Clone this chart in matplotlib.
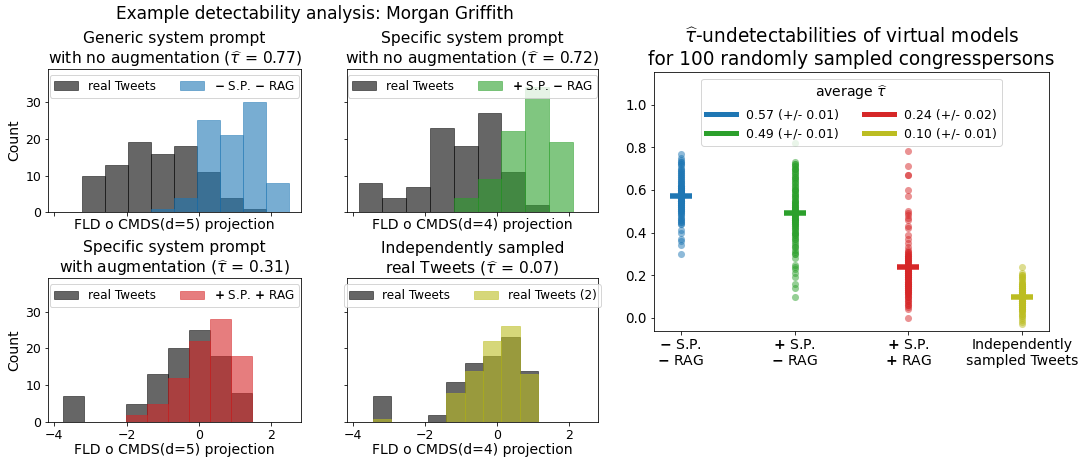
import numpy as np
import matplotlib
matplotlib.use("Agg")
import matplotlib.pyplot as plt
from matplotlib.lines import Line2D

# ---------------- data ----------------
# Histogram panels: bin edges and counts
edges_tl = [-3.225, -2.588, -1.951, -1.314, -0.678, -0.041, 0.596, 1.233, 1.870, 2.507]
real_tl = [10, 13, 19, 16, 18, 11, 4, 1, 0]
sim_tl = [0, 0, 0, 1, 4, 25, 21, 30, 8]

edges_tm = [-3.833, -3.173, -2.513, -1.854, -1.194, -0.534, 0.126, 0.786, 1.445, 2.105]
real_tm = [8, 4, 7, 23, 18, 27, 11, 2, 0]
sim_tm = [0, 0, 0, 0, 4, 9, 22, 34, 19]

edges_bl = [-3.750, -3.170, -2.591, -2.011, -1.432, -0.852, -0.272, 0.307, 0.887, 1.466]
real_bl = [7, 0, 0, 5, 13, 20, 25, 18, 8]
sim_bl = [0, 0, 0, 2, 5, 12, 22, 28, 18]

edges_bm = [-3.445, -2.935, -2.425, -1.915, -1.405, -0.895, -0.385, 0.125, 0.635, 1.144]
real_bm = [7, 0, 0, 2, 11, 16, 18, 23, 14]
sim_bm = [1, 0, 0, 0, 8, 14, 22, 26, 13]

hist_titles = [
    "Generic system prompt\nwith no augmentation ($\\widehat{\\tau}$ = 0.77)",
    "Specific system prompt\nwith no augmentation ($\\widehat{\\tau}$ = 0.72)",
    "Specific system prompt\nwith augmentation ($\\widehat{\\tau}$ = 0.31)",
    "Independently sampled\nreal Tweets ($\\widehat{\\tau}$ = 0.07)",
]
hist_labels = [
    r"$\mathbf{-}$ S.P. $\mathbf{-}$ RAG",
    r"$\mathbf{+}$ S.P. $\mathbf{-}$ RAG",
    r"$\mathbf{+}$ S.P. $\mathbf{+}$ RAG",
    "real Tweets (2)",
]
hist_xlabels = ["FLD o CMDS(d=5) projection", "FLD o CMDS(d=4) projection",
                "FLD o CMDS(d=5) projection", "FLD o CMDS(d=4) projection"]

# Right panel: per-congressperson tau-hat values
tau_sp_rag_minus = [
    0.77, 0.75, 0.74, 0.73, 0.73, 0.72, 0.72, 0.71, 0.70, 0.70,
    0.69, 0.69, 0.68, 0.68, 0.67, 0.67, 0.66, 0.66, 0.65, 0.65,
    0.64, 0.64, 0.63, 0.63, 0.63, 0.62, 0.62, 0.62, 0.61, 0.61,
    0.61, 0.60, 0.60, 0.60, 0.59, 0.59, 0.59, 0.58, 0.58, 0.58,
    0.58, 0.57, 0.57, 0.57, 0.57, 0.56, 0.56, 0.56, 0.56, 0.55,
    0.55, 0.55, 0.55, 0.54, 0.54, 0.54, 0.53, 0.53, 0.53, 0.52,
    0.52, 0.52, 0.51, 0.51, 0.51, 0.50, 0.50, 0.50, 0.49, 0.49,
    0.48, 0.48, 0.47, 0.47, 0.46, 0.46, 0.45, 0.45, 0.44, 0.44,
    0.41, 0.40, 0.37, 0.36, 0.34, 0.30, 0.60, 0.59, 0.58, 0.57,
    0.57, 0.56, 0.56, 0.55, 0.58, 0.57, 0.56, 0.55, 0.62, 0.60,
]
tau_sp_plus_rag_minus = [
    0.82, 0.73, 0.72, 0.72, 0.71, 0.71, 0.70, 0.70, 0.69, 0.68,
    0.67, 0.66, 0.65, 0.65, 0.64, 0.63, 0.62, 0.62, 0.61, 0.60,
    0.60, 0.59, 0.58, 0.58, 0.57, 0.56, 0.56, 0.55, 0.55, 0.54,
    0.54, 0.53, 0.53, 0.52, 0.52, 0.51, 0.51, 0.50, 0.50, 0.50,
    0.49, 0.49, 0.49, 0.48, 0.48, 0.48, 0.47, 0.47, 0.47, 0.46,
    0.46, 0.46, 0.45, 0.45, 0.44, 0.44, 0.43, 0.43, 0.42, 0.42,
    0.41, 0.41, 0.40, 0.40, 0.39, 0.39, 0.38, 0.37, 0.36, 0.35,
    0.34, 0.33, 0.32, 0.31, 0.30, 0.28, 0.25, 0.24, 0.21, 0.19,
    0.16, 0.14, 0.10, 0.70, 0.68, 0.66, 0.63, 0.60, 0.57, 0.55,
    0.52, 0.50, 0.48, 0.46, 0.44, 0.40, 0.37, 0.33, 0.30, 0.23,
]
tau_sp_plus_rag_plus = [
    0.78, 0.71, 0.67, 0.67, 0.60, 0.57, 0.50, 0.49, 0.48, 0.47,
    0.46, 0.43, 0.42, 0.39, 0.37, 0.35, 0.33, 0.32, 0.31, 0.30,
    0.30, 0.29, 0.29, 0.28, 0.28, 0.27, 0.27, 0.26, 0.26, 0.25,
    0.25, 0.25, 0.24, 0.24, 0.23, 0.23, 0.23, 0.22, 0.22, 0.22,
    0.21, 0.21, 0.21, 0.20, 0.20, 0.20, 0.19, 0.19, 0.19, 0.18,
    0.18, 0.18, 0.17, 0.17, 0.17, 0.16, 0.16, 0.16, 0.15, 0.15,
    0.15, 0.14, 0.14, 0.13, 0.13, 0.12, 0.12, 0.11, 0.11, 0.10,
    0.10, 0.09, 0.08, 0.07, 0.06, 0.05, 0.04, 0.00, 0.26, 0.24,
    0.31, 0.29, 0.27, 0.25, 0.23, 0.22, 0.21, 0.20, 0.19, 0.18,
    0.17, 0.16, 0.15, 0.14, 0.13, 0.12, 0.11, 0.10, 0.08, 0.06,
]
tau_real_real = [
    0.24, 0.21, 0.20, 0.20, 0.19, 0.19, 0.18, 0.18, 0.17, 0.17,
    0.16, 0.16, 0.16, 0.15, 0.15, 0.15, 0.14, 0.14, 0.14, 0.14,
    0.13, 0.13, 0.13, 0.13, 0.12, 0.12, 0.12, 0.12, 0.12, 0.11,
    0.11, 0.11, 0.11, 0.11, 0.11, 0.10, 0.10, 0.10, 0.10, 0.10,
    0.10, 0.10, 0.10, 0.10, 0.09, 0.09, 0.09, 0.09, 0.09, 0.09,
    0.09, 0.08, 0.08, 0.08, 0.08, 0.08, 0.08, 0.07, 0.07, 0.07,
    0.07, 0.07, 0.06, 0.06, 0.06, 0.06, 0.05, 0.05, 0.05, 0.04,
    0.04, 0.04, 0.03, 0.03, 0.02, 0.02, 0.01, 0.00, -0.01, -0.03,
    0.15, 0.14, 0.13, 0.12, 0.11, 0.11, 0.10, 0.10, 0.09, 0.09,
    0.08, 0.08, 0.07, 0.07, 0.06, 0.05, 0.04, 0.03, 0.01, -0.02,
]
tau_means = [0.57, 0.49, 0.24, 0.10]
tau_errs = [0.01, 0.01, 0.02, 0.01]
cond_labels = [
    r"$\mathbf{-}$ S.P." + "\n" + r"$\mathbf{-}$ RAG",
    r"$\mathbf{+}$ S.P." + "\n" + r"$\mathbf{-}$ RAG",
    r"$\mathbf{+}$ S.P." + "\n" + r"$\mathbf{+}$ RAG",
    "Independently\nsampled Tweets",
]

colors = ["tab:blue", "tab:green", "tab:red", "tab:olive"]

# ---------------- figure ----------------
W, H, DPI = 1085, 461, 72
fig = plt.figure(figsize=(W / DPI, H / DPI), dpi=DPI)


def px_axes(x0, y0, x1, y1):
    return fig.add_axes([x0 / W, 1 - y1 / H, (x1 - x0) / W, (y1 - y0) / H])


ax_tl = px_axes(48.3, 69.0, 300.7, 212.3)
ax_tm = px_axes(346.7, 69.0, 598.3, 212.3)
ax_bl = px_axes(48.3, 278.3, 300.7, 422.3)
ax_bm = px_axes(346.7, 278.3, 598.3, 422.3)
ax_r = px_axes(654.0, 72.3, 1049.0, 330.7)

panels = [
    (ax_tl, edges_tl, real_tl, sim_tl),
    (ax_tm, edges_tm, real_tm, sim_tm),
    (ax_bl, edges_bl, real_bl, sim_bl),
    (ax_bm, edges_bm, real_bm, sim_bm),
]

for i, (ax, edges, real, sim) in enumerate(panels):
    e = np.array(edges)
    w = np.diff(e)
    ax.bar(e[:-1], real, width=w, align="edge", color="k", alpha=0.6,
           edgecolor="k", linewidth=0.8, label="real Tweets")
    ax.bar(e[:-1], sim, width=w, align="edge", color=colors[i], alpha=0.6,
           edgecolor=colors[i], linewidth=0.8, label=hist_labels[i])
    ax.set_xlim(-4.166, 2.82)
    ax.set_ylim(0, 39)
    ax.set_xticks([-4, -2, 0, 2])
    ax.set_yticks([0, 10, 20, 30])
    ax.tick_params(labelsize=12.5)
    ax.set_title(hist_titles[i], fontsize=15.5, pad=5)
    ax.set_xlabel(hist_xlabels[i], fontsize=14, labelpad=2 if i < 2 else 1)
    if i in (0, 2):
        ax.set_ylabel("Count", fontsize=14)
    else:
        ax.tick_params(labelleft=False)
    if i < 2:
        ax.tick_params(labelbottom=False)
    ax.legend(loc="upper center", ncol=2, fontsize=12, borderaxespad=0.5,
              handlelength=2.0, handleheight=0.7, columnspacing=2.0)

# ---------------- right panel ----------------
groups = [tau_sp_rag_minus, tau_sp_plus_rag_minus, tau_sp_plus_rag_plus, tau_real_real]
for i, vals in enumerate(groups):
    ax_r.scatter(np.full(len(vals), i), vals, s=50, color=colors[i], alpha=0.5,
                 linewidths=0, zorder=2)
    ax_r.plot([i], [tau_means[i]], marker="+", markersize=22, mew=5.5,
              color=colors[i], linestyle="none", zorder=3)

ax_r.set_xlim(-0.235, 3.237)
ax_r.set_ylim(-0.06, 1.151)
ax_r.set_xticks(range(4))
ax_r.set_xticklabels(cond_labels, fontsize=14)
ax_r.set_yticks([0.0, 0.2, 0.4, 0.6, 0.8, 1.0])
ax_r.set_yticklabels(["0.0", "0.2", "0.4", "0.6", "0.8", "1.0"], fontsize=13.5)
ax_r.set_title(r"$\widehat{\tau}$-undetectabilities of virtual models" + "\n"
               + "for 100 randomly sampled congresspersons", fontsize=18.5, pad=7)

handles = [Line2D([0], [0], color=c, lw=5) for c in colors]
labels = [f"{m:.2f} (+/- {e:.2f})" for m, e in zip(tau_means, tau_errs)]
leg = ax_r.legend(handles, labels, loc="upper center", ncol=2, fontsize=12.5,
                  title=r"average $\widehat{\tau}$", title_fontsize=14,
                  handlelength=2.4, columnspacing=2.0, borderaxespad=0.5)

fig.text(314.5 / W, 1 - 14 / H, "Example detectability analysis: Morgan Griffith",
         ha="center", va="center", fontsize=17)

fig.savefig("out.png", dpi=DPI)
